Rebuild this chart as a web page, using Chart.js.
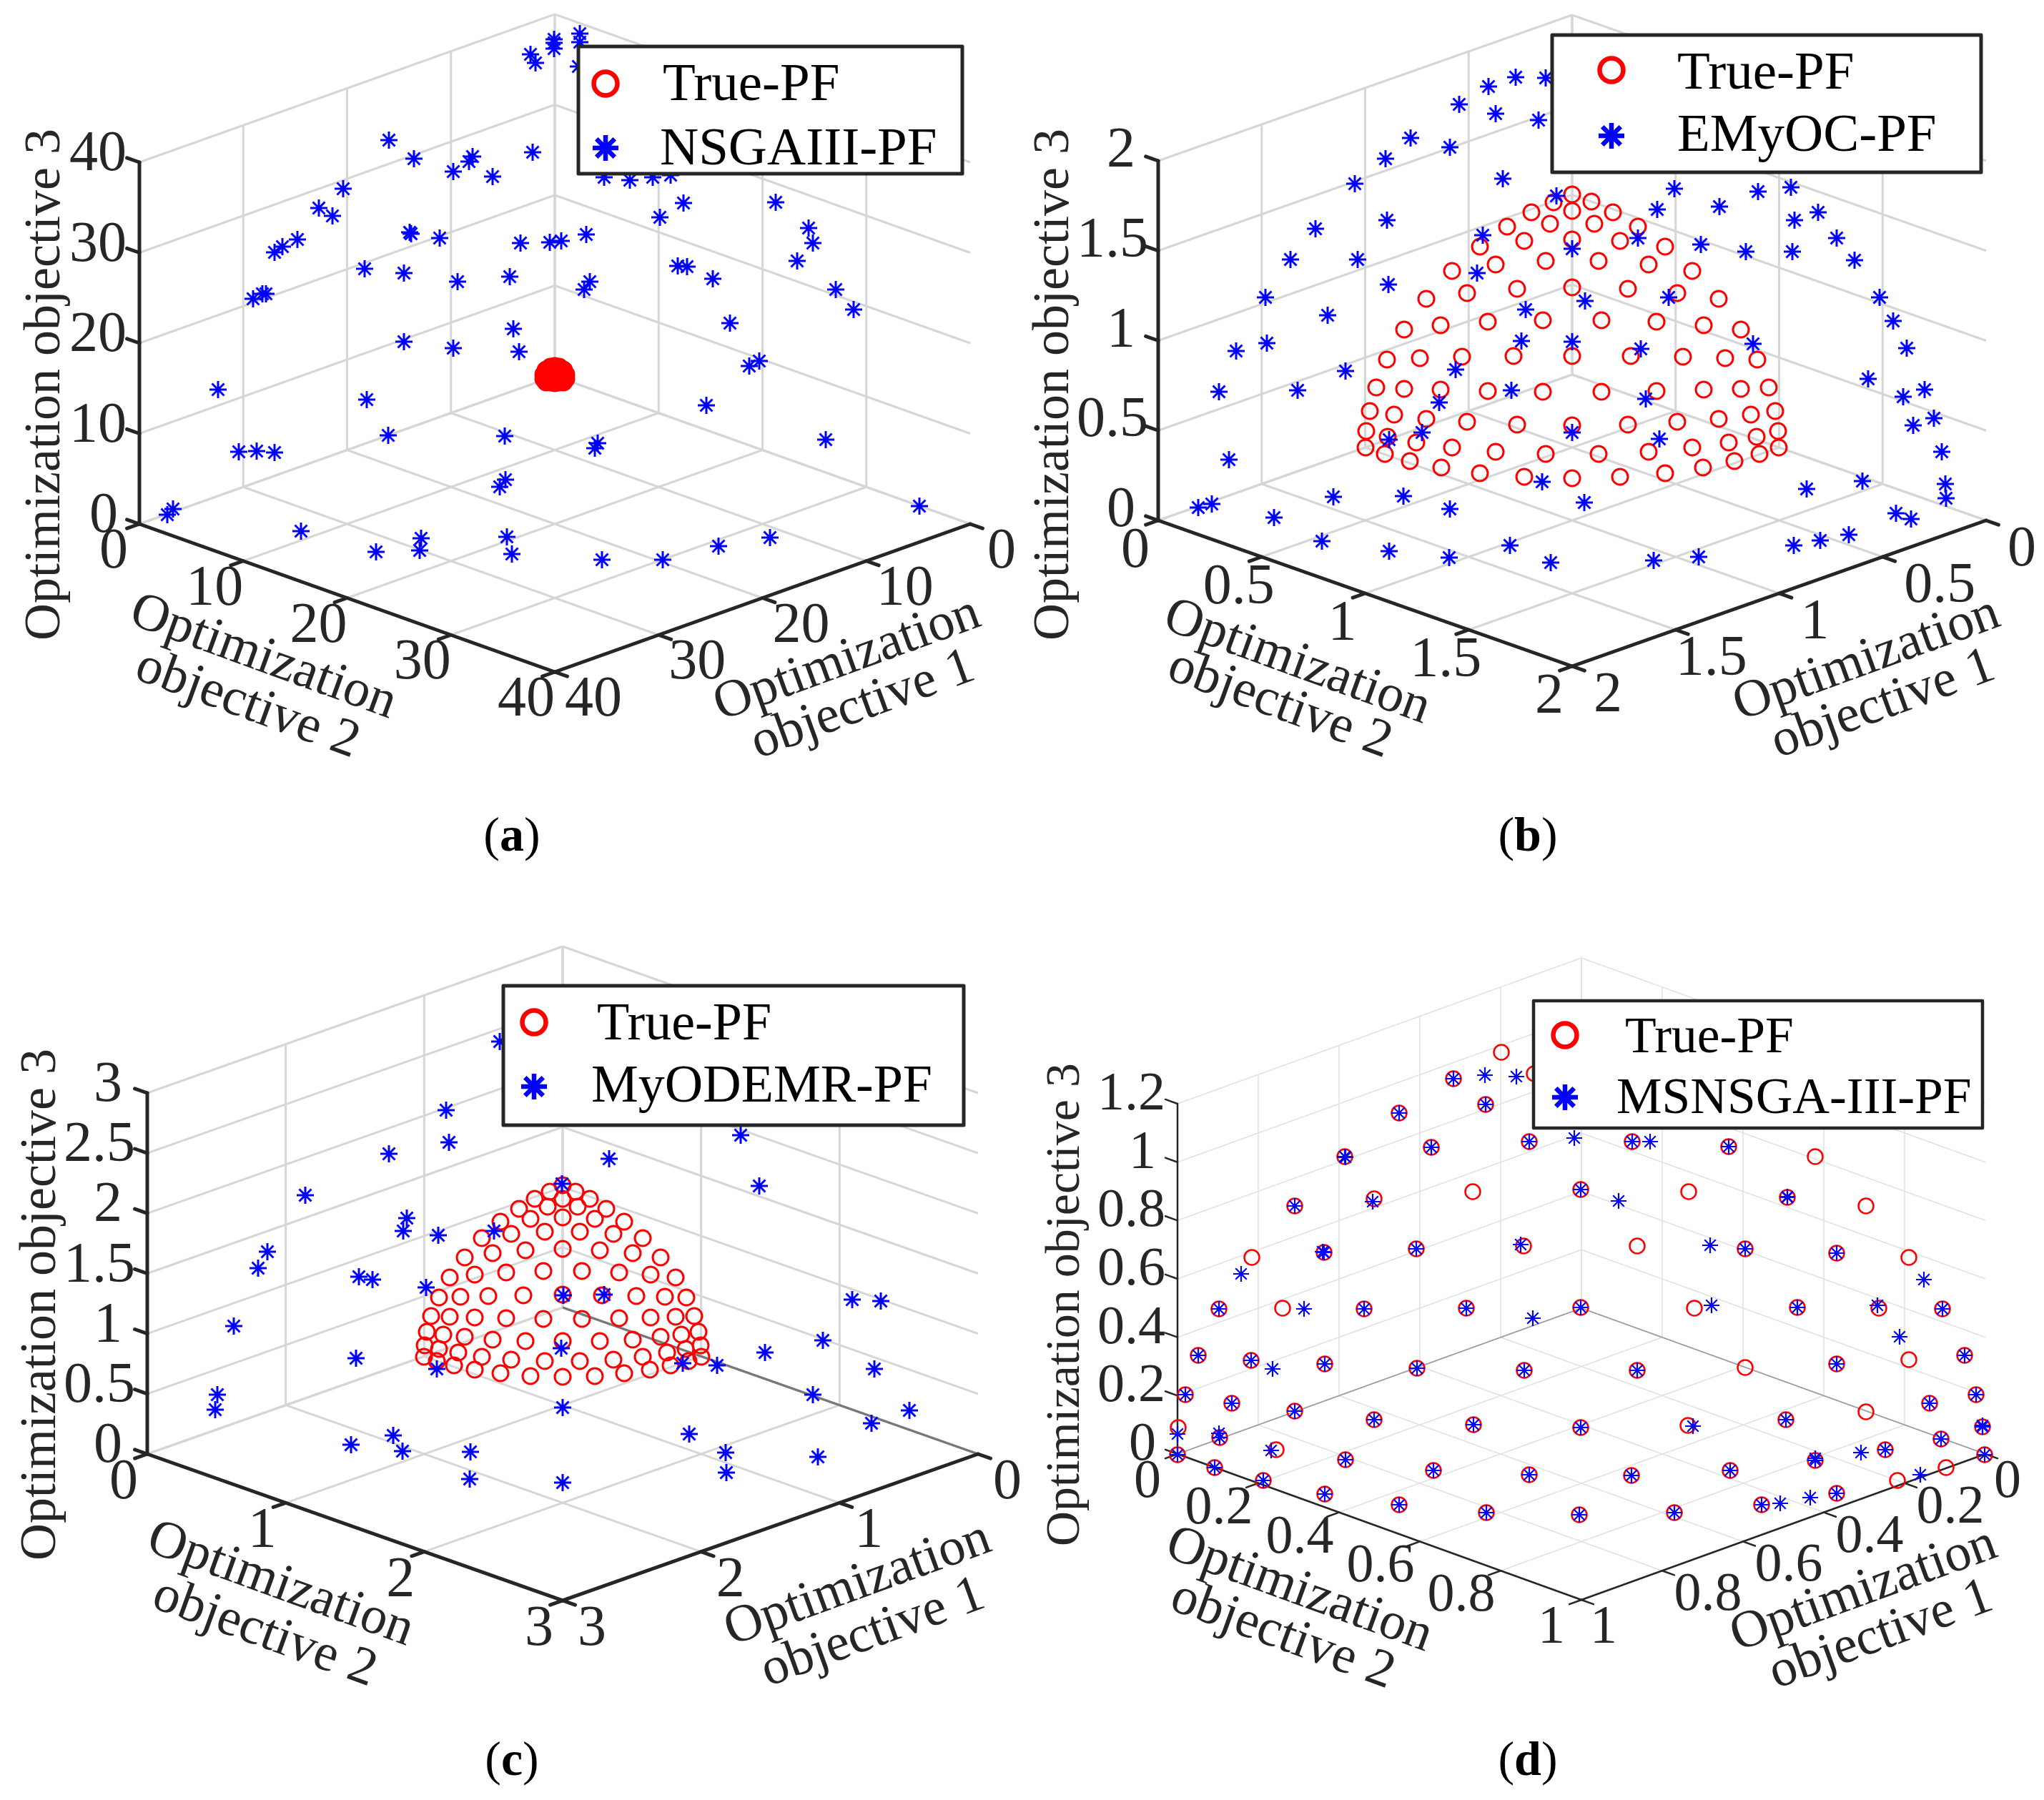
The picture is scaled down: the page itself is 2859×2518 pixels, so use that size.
<!DOCTYPE html>
<html>
<head>
<meta charset="utf-8">
<title>Pareto fronts</title>
<script src="https://cdn.jsdelivr.net/npm/chart.js@4"></script>
<style>
  html, body { margin: 0; background: #fff; }
  #page { position: relative; width: 2859px; height: 2518px; overflow: hidden; }
  canvas { position: absolute; display: block; }
</style>
</head>
<body>
<div id="page"></div>
<script>
// tick labels of the three axes in each panel
const ticksA = [0, 10, 20, 30, 40];
const ticksZA = [0, 10, 20, 30, 40];
const ticksB = [0, 0.5, 1, 1.5, 2];
const ticksZB = [0, 0.5, 1, 1.5, 2];
const ticksC = [0, 1, 2, 3];
const ticksZC = [0, 0.5, 1, 1.5, 2, 2.5, 3];
const ticksD = [0, 0.2, 0.4, 0.6, 0.8, 1];
const ticksZD = [0, 0.2, 0.4, 0.6, 0.8, 1, 1.2];

// points are read off the picture, so they are view-plane values (depth can't be recovered)
const trueAx = [776,770,782,764,788,761,791,761,791,770,782,776,776,768,784,772,780,764,788,776,770,782];
const trueAy = [513,514,514,518,518,524,524,530,530,520,520,520,526,526,526,532,532,534,534,535,534,534];
const nsgaAx = [811,811,775,775,775,742,749,809,544,579,661,656,634,689,745,480,446,465,416,395,384,573,575,615,728,769,785,820,510,565,640,713,825,817,372,367,354,845,881,913,938,956,923,1085,1131,1137,1115,948,961,997,1169,1194,1021,1062,1048,988,836,832,1155,1286,1077,1005,842,927,718,726,565,634,513,305,543,706,334,359,384,707,699,242,234,421,526,589,587,709,716];
const nsgaAy = [47,59,55,60,68,76,88,93,196,222,219,226,240,247,213,264,291,302,335,345,353,325,327,333,340,339,337,328,376,382,394,387,394,405,411,411,418,248,252,248,245,284,304,283,319,340,365,372,373,390,405,433,452,505,512,567,620,627,615,708,752,764,783,783,460,492,478,487,559,545,609,610,632,631,633,671,681,712,720,743,772,753,770,751,775];

const trueBx = [2199,2199,2199,2199,2199,2199,2199,2173,2142,2168,2108,2132,2070,2092,2162,2031,2052,2122,1995,2158,2081,2015,1964,2117,2045,1986,1940,1925,1964,2015,2081,2158,1916,1950,1995,2052,2122,1911,1941,1981,2031,2092,2162,1910,1937,1972,2016,2070,2132,2226,2256,2230,2291,2266,2329,2306,2236,2367,2346,2277,2404,2240,2317,2383,2435,2281,2354,2413,2458,2474,2435,2383,2317,2240,2483,2449,2404,2346,2277,2487,2457,2418,2367,2306,2236,2488,2461,2426,2382,2329,2266];
const trueBy = [272,295,335,402,498,595,669,283,297,313,317,337,345,370,365,379,410,404,418,448,450,455,461,498,499,501,503,542,544,545,547,548,575,580,586,590,594,603,611,619,626,632,635,626,635,645,654,662,667,282,297,313,317,337,345,370,365,379,410,404,418,448,450,455,461,498,499,501,503,542,544,545,547,548,575,580,586,590,594,603,611,619,626,632,635,626,635,645,654,662,667];
const emyocBx = [2082,2120,2162,2041,2092,2152,1973,2028,1938,1895,2102,2177,1940,1840,1805,1899,2074,2199,2066,1942,1770,1857,2217,2134,1772,1729,2128,2199,1882,2036,1705,1815,2114,2013,1989,1943,2199,1719,2157,1865,1963,2028,2216,1695,1676,1782,1849,1943,2027,2112,2169,2342,2459,2505,2318,2405,2543,2510,2291,2379,2442,2507,2569,2594,2629,2334,2648,2452,2667,2295,2613,2692,2662,2302,2705,2676,2321,2716,2605,2527,2721,2722,2652,2673,2586,2546,2509,2376,2313];
const emyocBy = [121,108,109,146,159,168,193,206,222,257,250,274,308,320,363,363,329,348,382,398,416,441,421,433,480,491,477,478,519,517,548,546,546,563,605,615,605,643,674,695,694,712,703,705,710,724,757,771,780,763,787,264,268,262,293,289,297,308,333,342,352,352,333,364,416,416,449,481,487,488,530,545,555,558,585,595,614,632,673,684,677,697,718,726,748,756,763,779,784];

const trueCx = [787,787,787,787,787,787,787,769,748,766,726,742,700,715,762,674,689,735,650,629,664,708,760,614,644,683,732,603,629,664,708,760,597,620,650,689,735,594,614,641,674,715,762,593,611,635,664,700,742,805,825,808,848,832,873,858,811,899,885,839,924,945,910,866,814,960,930,890,842,971,945,910,866,814,977,953,924,885,839,980,959,933,899,858,811,981,963,938,909,873,832];
const trueCy = [1658,1677,1703,1747,1811,1876,1926,1667,1677,1688,1691,1705,1709,1726,1723,1732,1753,1749,1759,1787,1783,1780,1778,1815,1814,1813,1812,1841,1842,1843,1844,1845,1863,1867,1870,1874,1876,1882,1887,1892,1898,1902,1904,1898,1904,1910,1916,1921,1925,1667,1677,1688,1691,1705,1709,1726,1723,1732,1753,1749,1759,1787,1783,1780,1778,1815,1814,1813,1812,1841,1842,1843,1844,1845,1863,1867,1870,1874,1876,1882,1887,1892,1898,1902,1904,1898,1904,1910,1916,1921,1925];
const myodeCx = [624,628,544,427,569,564,613,691,374,361,502,521,596,327,786,788,498,785,611,304,301,787,550,491,563,658,657,787,699,852,1036,1062,845,1192,1232,1151,1070,1223,955,1003,1137,1272,1219,964,1015,1016,1144];
const myodeCy = [1553,1598,1614,1672,1704,1722,1728,1722,1751,1774,1786,1790,1801,1855,1656,1812,1900,1886,1915,1951,1972,1969,2008,2021,2030,2031,2069,2074,1457,1621,1588,1659,1811,1818,1820,1875,1892,1915,1907,1910,1951,1973,1991,2006,2032,2060,2038];

// panel d: most solutions sit right on the true front
const sharedDx = [2033,1957,2078,2139,2002,1881,1811,2211,1852,1981,1705,1908,2051,2211,1676,1750,1853,1982,2132,1658,1723,1811,1922,2061,2211,1706,1882,2005,2139,1647,1699,1767,1853,1957,2079,2209,2283,2418,2500,2441,2569,2514,2717,2290,2569,2748,2764,2699,2498,2773,2715,2637,2539,2420,2282,2776,2569,2464,2342];
const sharedDy = [1509,1557,1545,1597,1605,1618,1687,1664,1752,1747,1831,1831,1830,1829,1896,1903,1908,1914,1917,1951,1963,1974,1986,1993,1997,2011,2042,2057,2063,2035,2053,2071,2090,2105,2116,2119,1597,1604,1675,1747,1753,1829,1831,1917,1908,1896,1951,1963,1986,1996,2013,2028,2043,2057,2064,2035,2089,2105,2116];
const trueOnlyDx = [2100,2146,2060,1751,1794,1922,2131,1785,1648,2539,2362,2610,2290,2670,2370,2441,2670,2610,2722,2654,2628,2361];
const trueOnlyDy = [1472,1502,1667,1759,1830,1677,1743,2028,1997,1618,1667,1687,1743,1759,1830,1913,1902,1975,2053,2071,1830,1994];
const msnsgaOnlyDx = [2077,2121,2202,1736,1824,2144,1780,1920,2127,1778,1647,2308,2264,2392,2394,2691,2657,2603,2686,2532,2490,2626,2368,1882,1850,2500,2773,2539,1705];
const msnsgaOnlyDy = [1504,1506,1592,1782,1831,1844,1915,1681,1741,2029,2006,1597,1680,1742,1826,1790,1870,2032,2063,2095,2103,1826,1995,1619,1751,1674,1994,2040,2005];

function toPoints(xs, ys) {
    return xs.map(function(x, i) { return { x: x, y: ys[i] }; });
}

const SERIF = '"Liberation Serif"';
const INK = '#262626';

const panelPlugin = {
    id: 'panel3d',
    beforeDatasetsDraw(chart) {
        const p = chart.options.plugins.panel3d;
        const ctx = chart.ctx;
        const pt = function(o1, o2, o3) {
            return [
                chart.scales.x.getPixelForValue(p.back[0] + (o2 - o1) * p.ku),
                chart.scales.y.getPixelForValue(p.back[1] + (o1 + o2) * p.kd - o3 * p.kz)
            ];
        };
        const seg = function(a, b) {
            ctx.beginPath();
            ctx.moveTo(a[0], a[1]);
            ctx.lineTo(b[0], b[1]);
            ctx.stroke();
        };
        const max = p.max, zMax = p.zMax;
        ctx.save();
        ctx.lineCap = 'butt';

        // grid on the floor and the two back walls
        ctx.strokeStyle = p.gridColor;
        ctx.lineWidth = p.gridWidth;
        p.ticks.forEach(function(t) {
            seg(pt(t, 0, 0), pt(t, max, 0));
            seg(pt(0, t, 0), pt(max, t, 0));
            if (t < max) {
                seg(pt(t, 0, 0), pt(t, 0, zMax));
                seg(pt(0, t, 0), pt(0, t, zMax));
            }
        });
        p.zTicks.forEach(function(t) {
            seg(pt(max, 0, t), pt(0, 0, t));
            seg(pt(0, 0, t), pt(0, max, t));
        });
        if (p.floorEdge) {
            ctx.strokeStyle = p.floorEdge;
            if (p.edgeLeft) seg(pt(max, 0, 0), pt(0, 0, 0));
            seg(pt(0, 0, 0), pt(0, max, 0));
        }

        // the three dark axes with tick marks
        ctx.strokeStyle = INK;
        ctx.lineWidth = p.axisWidth;
        ctx.lineCap = 'round';
        seg(pt(max, 0, 0), pt(max, 0, zMax));
        seg(pt(max, 0, 0), pt(max, max, 0));
        seg(pt(0, max, 0), pt(max, max, 0));
        const tl = 0.03;
        p.ticks.forEach(function(t) {
            seg(pt(max, t, 0), pt(max * (1 + tl), t, 0));
            seg(pt(t, max, 0), pt(t, max * (1 + tl), 0));
        });
        p.zTicks.forEach(function(t) {
            seg(pt(max, 0, t), pt(max, -max * tl, t));
        });

        // tick labels
        ctx.fillStyle = INK;
        ctx.font = p.tickFont + 'px ' + SERIF;
        ctx.textBaseline = 'middle';
        ctx.textAlign = 'center';
        p.ticks.forEach(function(t) {
            const s = String(t);
            const long = s.length > 1 && p.longOff;
            const a = pt(max, t, 0), b = pt(t, max, 0);
            const oa = long ? p.longOff[0] : p.off2, ob = long ? p.longOff[1] : p.off1;
            const extra = (p.nudge1 && p.nudge1[s]) || 0;   // odd one out in the original layout
            ctx.fillText(s, a[0] + oa[0], a[1] + oa[1]);
            ctx.fillText(s, b[0] + ob[0] + extra, b[1] + ob[1]);
        });
        ctx.textAlign = 'right';
        p.zTicks.forEach(function(t) {
            const s = String(t);
            const a = pt(max, 0, t);
            ctx.fillText(s, a[0] + (s.length > 1 ? p.offZ[2] : p.offZ[0]), a[1] + p.offZ[1]);
        });

        // axis titles
        const title = function(text, x, y, angle, size) {
            ctx.save();
            ctx.translate(chart.scales.x.getPixelForValue(x), chart.scales.y.getPixelForValue(y));
            ctx.rotate(angle * Math.PI / 180);
            ctx.textAlign = 'center';
            ctx.font = size + 'px ' + SERIF;
            ctx.fillText(text, 0, 0);
            ctx.restore();
        };
        title('Optimization objective 3', p.zTitle[0], p.zTitle[1], -90, p.zTitleFont);
        title('Optimization', p.title2[0], p.title2[1], p.titleAngle, p.titleFont);
        title('objective 2', p.title2[2], p.title2[3], p.titleAngle, p.titleFont);
        title('Optimization', p.title1[0], p.title1[1], -p.titleAngle, p.titleFont);
        title('objective 1', p.title1[2], p.title1[3], -p.titleAngle, p.titleFont);

        // caption: bold letter between plain brackets
        const cx = chart.scales.x.getPixelForValue(p.caption[1]);
        const cy = chart.scales.y.getPixelForValue(p.caption[2]);
        ctx.textAlign = 'left';
        ctx.fillStyle = '#000';
        ctx.font = '68px ' + SERIF;
        const w1 = ctx.measureText('(').width;
        ctx.font = 'bold 68px ' + SERIF;
        const w2 = ctx.measureText(p.caption[0]).width;
        const left = cx - (w1 * 2 + w2) / 2;
        ctx.font = '68px ' + SERIF;
        ctx.fillText('(', left, cy);
        ctx.fillText(')', left + w1 + w2, cy);
        ctx.font = 'bold 68px ' + SERIF;
        ctx.fillText(p.caption[0], left + w1, cy);
        ctx.restore();
    },
    afterDatasetsDraw(chart) {
        const p = chart.options.plugins.panel3d;
        const L = p.legend;
        const ctx = chart.ctx;
        const X = function(v) { return chart.scales.x.getPixelForValue(v); };
        const Y = function(v) { return chart.scales.y.getPixelForValue(v); };
        ctx.save();
        ctx.fillStyle = '#fff';
        ctx.strokeStyle = INK;
        ctx.lineWidth = L.border;
        ctx.lineJoin = 'round';
        ctx.fillRect(X(L.box[0]), Y(L.box[1]), L.box[2] - L.box[0], L.box[3] - L.box[1]);
        ctx.strokeRect(X(L.box[0]), Y(L.box[1]), L.box[2] - L.box[0], L.box[3] - L.box[1]);

        ctx.strokeStyle = '#f00';
        ctx.lineWidth = 6.5;
        Chart.helpers.drawPoint(ctx, { pointStyle: 'circle', radius: 16.5, rotation: 0, borderWidth: 6.5 }, X(L.markerX), Y(L.rows[0][0]));
        ctx.strokeStyle = '#00f';
        ctx.lineWidth = 6.5;
        Chart.helpers.drawPoint(ctx, { pointStyle: 'star', radius: 18, rotation: 0, borderWidth: 6.5 }, X(L.markerX), Y(L.rows[1][0]));

        ctx.fillStyle = '#000';
        ctx.font = L.font + 'px ' + SERIF;
        ctx.textAlign = 'left';
        ctx.textBaseline = 'alphabetic';
        chart.data.datasets.forEach(function(ds) {
            const row = L.rows[ds.legendRow];
            ctx.fillText(ds.label, X(row[1]), Y(row[2]));
        });
        ctx.restore();
    }
};

function makePanel(opts) {
    const canvas = document.createElement('canvas');
    canvas.width = opts.win[2];
    canvas.height = opts.win[3];
    canvas.style.left = opts.win[0] + 'px';
    canvas.style.top = opts.win[1] + 'px';
    document.getElementById('page').appendChild(canvas);
    new Chart(canvas.getContext('2d'), {
        type: 'scatter',
        data: {
            datasets: [
                {
                    label: opts.blueName,
                    legendRow: 1,
                    data: opts.blue,
                    order: 0,
                    pointStyle: 'star',
                    pointRadius: opts.starSize,
                    pointBorderWidth: opts.markWidth,
                    pointBorderColor: '#00f',
                    pointBackgroundColor: 'transparent'
                },
                {
                    label: 'True-PF',
                    legendRow: 0,
                    data: opts.red,
                    order: 1,
                    pointStyle: 'circle',
                    pointRadius: opts.circleSize,
                    pointBorderWidth: opts.redWidth,
                    pointBorderColor: '#f00',
                    pointBackgroundColor: 'transparent'
                }
            ]
        },
        options: {
            responsive: false,
            animation: false,
            devicePixelRatio: 1,
            events: [],
            layout: { padding: 0, autoPadding: false },
            scales: {
                x: { display: false, min: opts.win[0], max: opts.win[0] + opts.win[2] },
                y: { display: false, reverse: true, min: opts.win[1], max: opts.win[1] + opts.win[3] }
            },
            plugins: {
                legend: { display: false },
                tooltip: { enabled: false },
                panel3d: opts.view
            }
        },
        plugins: [panelPlugin]
    });
}

makePanel({
    win: [0, 0, 1430, 1259],
    red: toPoints(trueAx, trueAy),
    blue: toPoints(nsgaAx, nsgaAy),
    blueName: 'NSGAIII-PF',
    starSize: 12, circleSize: 10.5, markWidth: 3, redWidth: 6,
    view: {
        back: [776, 526], ku: 14.525, kd: 5.175, kz: 12.65,
        ticks: ticksA, zTicks: ticksZA, max: 40, zMax: 40,
        gridColor: '#d6d6d6', gridWidth: 3, axisWidth: 5,
        tickFont: 80, off2: [-36, 40], off1: [44, 40], longOff: [[-40, 40], [54, 40]], offZ: [-30, -10, -18],
        zTitle: [64, 538], zTitleFont: 72,
        title2: [368, 920, 346, 986], title1: [1185, 923, 1207, 987], titleAngle: 20, titleFont: 74,
        caption: ['a', 716, 1172],
        legend: { box: [809, 65, 1346, 243], border: 5, font: 75, markerX: 847, rows: [[117, 927, 140], [207, 923, 230]] }
    }
});

makePanel({
    win: [1430, 0, 1429, 1259],
    red: toPoints(trueBx, trueBy),
    blue: toPoints(emyocBx, emyocBy),
    blueName: 'EMyOC-PF',
    starSize: 12, circleSize: 11, markWidth: 3, redWidth: 3,
    view: {
        back: [2199, 524], ku: 289.5, kd: 102, kz: 251.5,
        ticks: ticksB, zTicks: ticksZB, max: 2, zMax: 2,
        gridColor: '#d6d6d6', gridWidth: 3, axisWidth: 5,
        tickFont: 80, off2: [-32, 44], off1: [50, 42], nudge1: { '0.5': 30 }, offZ: [-32, -13, -14],
        zTitle: [1475, 538], zTitleFont: 72,
        title2: [1814, 927, 1790, 986], title1: [2611, 923, 2634, 986], titleAngle: 20, titleFont: 74,
        caption: ['b', 2137, 1172],
        legend: { box: [2171, 49, 2771, 241], border: 5, font: 75, markerX: 2254, rows: [[98, 2346, 124], [190, 2346, 211]] }
    }
});

makePanel({
    win: [0, 1259, 1430, 1259],
    red: toPoints(trueCx, trueCy),
    blue: toPoints(myodeCx, myodeCy),
    blueName: 'MyODEMR-PF',
    starSize: 12, circleSize: 11, markWidth: 3, redWidth: 3,
    view: {
        back: [787, 1829], ku: 193.67, kd: 68.33, kz: 168.33,
        ticks: ticksC, zTicks: ticksZC, max: 3, zMax: 3,
        gridColor: '#d6d6d6', gridWidth: 3, axisWidth: 5,
        floorEdge: '#777', edgeLeft: false,
        tickFont: 80, off2: [-33, 41], off1: [41, 41], offZ: [-35, -10, -17],
        zTitle: [58, 1825], zTitleFont: 72,
        title2: [392, 2217, 370, 2285], title1: [1200, 2217, 1221, 2285], titleAngle: 20, titleFont: 74,
        caption: ['c', 716, 2465],
        legend: { box: [704, 1379, 1348, 1574], border: 5, font: 74, markerX: 747, rows: [[1430, 835, 1454], [1520, 827, 1541]] }
    }
});

makePanel({
    win: [1430, 1259, 1429, 1259],
    red: toPoints(sharedDx.concat(trueOnlyDx), sharedDy.concat(trueOnlyDy)),
    blue: toPoints(sharedDx.concat(msnsgaOnlyDx), sharedDy.concat(msnsgaOnlyDy)),
    blueName: 'MSNSGA-III-PF',
    starSize: 11, circleSize: 10.5, markWidth: 2.2, redWidth: 2.5,
    view: {
        back: [2212, 1830], ku: 565, kd: 204, kz: 408.3,
        ticks: ticksD, zTicks: ticksZD, max: 1, zMax: 1.2,
        gridColor: '#e2e2e2', gridWidth: 1.6, axisWidth: 2.5,
        floorEdge: '#9a9a9a', edgeLeft: true,
        tickFont: 76, off2: [-42, 40], off1: [31, 40], longOff: [[-55, 36], [64, 35]], offZ: [-30, -12, -17],
        zTitle: [1491, 1825], zTitleFont: 68,
        title2: [1817, 2225, 1794, 2288], title1: [2607, 2225, 2631, 2288], titleAngle: 20, titleFont: 74,
        caption: ['d', 2137, 2465],
        legend: { box: [2145, 1400, 2773, 1578], border: 4.5, font: 71.5, markerX: 2189, rows: [[1448, 2273, 1472], [1535, 2261, 1557]] }
    }
});
</script>
</body>
</html>
